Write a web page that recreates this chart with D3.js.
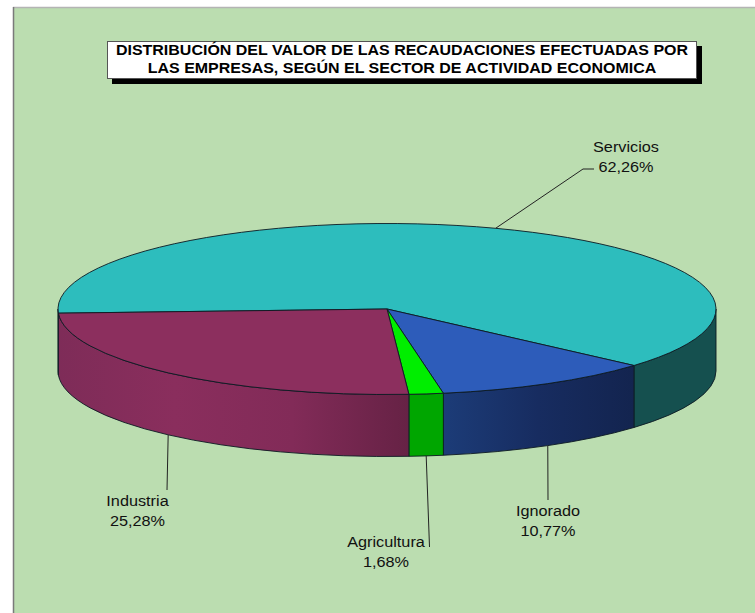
<!DOCTYPE html>
<html>
<head>
<meta charset="utf-8">
<script src="https://cdn.jsdelivr.net/npm/d3@7"></script>
<style>
  body { margin: 0; background: #fff; }
  svg { display: block; }
  text { font-family: "Liberation Sans", Arial, sans-serif; fill: #111; }
  .edge { stroke: #0c1a22; stroke-width: 0.9; vector-effect: non-scaling-stroke; stroke-linejoin: round; }
</style>
</head>
<body>
<div id="chart"></div>
<script>
const titleLines = [
  "DISTRIBUCIÓN DEL VALOR DE LAS RECAUDACIONES EFECTUADAS POR",
  "LAS EMPRESAS, SEGÚN EL SECTOR DE ACTIVIDAD ECONOMICA"
];
const categories = ["Servicios", "Ignorado", "Agricultura", "Industria"];
const values = [62.26, 10.77, 1.68, 25.28];
const valueLabels = ["62,26%", "10,77%", "1,68%", "25,28%"];
const topColors = ["#2dbdbd", "#2d5cba", "#00ee00", "#8c2f5e"];
const wallStops = [
  ["#15504f", "#15504f"],
  ["#1c3c78", "#172c60", "#13244f"],
  ["#00a600", "#00a600"],
  ["#7e2c58", "#8a2e5d", "#822b58", "#662245"]
];

const width = 755, height = 613;
const cx = 387, cy = 309, rx = 329, ry = 85.5, depth = 62;
const k = ry / rx;
const startDeg = 267.2;

// the text in the picture is a little wider than the font's own shape
const textStretch = 1.07;

// where each label sits, and the elbow of its leader line
const labelPos = [
  {x: 626, y: 152, leader: [[583, 169], [594, 169]]},
  {x: 548, y: 516, leader: [[548, 500]]},
  {x: 386, y: 547, leader: [[429.5, 547]]},
  {x: 137.5, y: 506, leader: [[167, 490]]}
];

const svg = d3.select("#chart").append("svg")
  .attr("width", width)
  .attr("height", height);

// background panel, runs off the right and bottom of the page
svg.append("rect")
  .attr("x", 14).attr("y", 8)
  .attr("width", width).attr("height", height)
  .attr("fill", "#bbddb0");
svg.append("line").attr("x1", 13).attr("x2", width).attr("y1", 7.5).attr("y2", 7.5)
  .attr("stroke", "#b4b4b4").attr("stroke-width", 1.5);
svg.append("line").attr("x1", 13.5).attr("x2", 13.5).attr("y1", 7).attr("y2", height)
  .attr("stroke", "#7a7a7a").attr("stroke-width", 1.5);

// title box
svg.append("rect").attr("x", 112).attr("y", 46).attr("width", 590).attr("height", 38).attr("fill", "#000");
svg.append("rect").attr("x", 107.5).attr("y", 41.5).attr("width", 589).attr("height", 37)
  .attr("fill", "#fff").attr("stroke", "#555").attr("stroke-width", 1);
svg.selectAll(".title")
  .data(titleLines)
  .enter()
  .append("text")
    .attr("class", "title")
    .attr("transform", (d, i) => `translate(402,${55 + i * 17.5}) scale(${textStretch},1)`)
    .attr("text-anchor", "middle")
    .style("font-size", "14.95px")
    .style("font-weight", "bold")
    .style("fill", "#000")
    .text(d => d);

// pie, drawn as a circle and squashed by the group transform
const pie = d3.pie().sort(null)
  .startAngle(startDeg * Math.PI / 180)
  .endAngle((startDeg + 360) * Math.PI / 180);
const slices = pie(values);
const arc = d3.arc().innerRadius(0).outerRadius(rx);

const defs = svg.append("defs");
wallStops.forEach((stops, i) => {
  const grad = defs.append("linearGradient").attr("id", "wall" + i);
  stops.forEach((c, j) => {
    grad.append("stop")
      .attr("offset", j / (stops.length - 1))
      .attr("stop-color", c);
  });
});

const pieG = svg.append("g").attr("transform", `translate(${cx},${cy}) scale(1,${k})`);

// only the part of the rim between 90 and 270 degrees faces the viewer
function frontParts(a0, a1) {
  const parts = [];
  [[Math.PI / 2, 1.5 * Math.PI], [2.5 * Math.PI, 3.5 * Math.PI]].forEach(w => {
    const s = Math.max(a0, w[0]), e = Math.min(a1, w[1]);
    if (e > s) parts.push([s, e]);
  });
  return parts;
}

function wallPath(s, e) {
  const h = depth / k;
  const p = d3.path();
  p.moveTo(rx * Math.sin(s), -rx * Math.cos(s));
  p.arc(0, 0, rx, s - Math.PI / 2, e - Math.PI / 2, false);
  p.lineTo(rx * Math.sin(e), -rx * Math.cos(e) + h);
  p.arc(0, h, rx, e - Math.PI / 2, s - Math.PI / 2, true);
  p.closePath();
  return p.toString();
}

slices.forEach((d, i) => {
  frontParts(d.startAngle, d.endAngle).forEach(part => {
    pieG.append("path")
      .attr("class", "edge")
      .attr("d", wallPath(part[0], part[1]))
      .attr("fill", `url(#wall${i})`);
  });
});

pieG.selectAll(".top")
  .data(slices)
  .enter()
  .append("path")
    .attr("class", "top edge")
    .attr("d", arc)
    .attr("fill", (d, i) => topColors[i]);

// leader lines start at the middle of each slice's rim
const leaderLine = d3.line();
slices.forEach((d, i) => {
  const mid = (d.startAngle + d.endAngle) / 2;
  const x = cx + rx * Math.sin(mid);
  const back = Math.cos(mid) > 0;
  const y = cy - ry * Math.cos(mid) + (back ? 0 : depth);
  svg.append("path")
    .attr("d", leaderLine([[x, y]].concat(labelPos[i].leader)))
    .attr("fill", "none")
    .attr("stroke", "#222")
    .attr("stroke-width", 1);
});

// labels
categories.forEach((name, i) => {
  [name, valueLabels[i]].forEach((t, j) => {
    svg.append("text")
      .attr("transform", `translate(${labelPos[i].x},${labelPos[i].y + j * 19.5}) scale(${textStretch},1)`)
      .attr("text-anchor", "middle")
      .style("font-size", "15.2px")
      .text(t);
  });
});
</script>
</body>
</html>
